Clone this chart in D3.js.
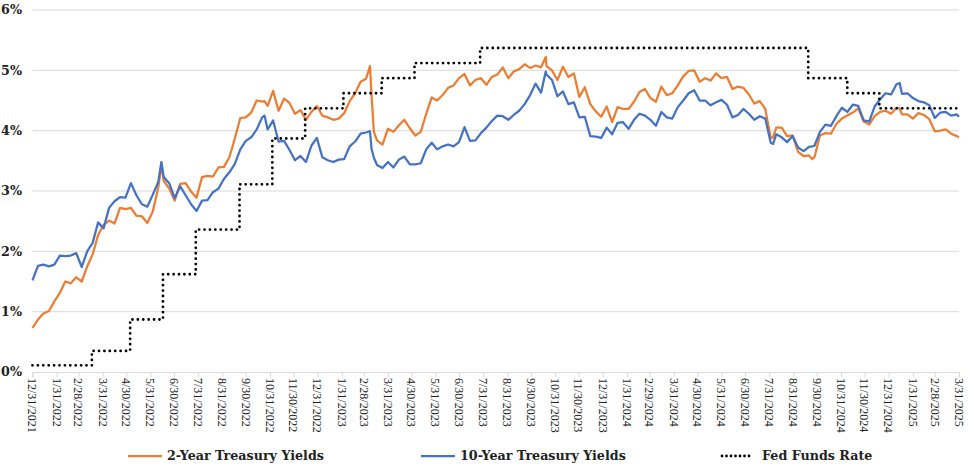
<!DOCTYPE html>
<html>
<head>
<meta charset="utf-8">
<script src="https://cdn.jsdelivr.net/npm/d3@7"></script>
<style>
  body { margin: 0; background: #fff; }
  svg { display: block; }
  .x-label { font-family: "Liberation Serif", serif; font-size: 12px; fill: #222; }
  .y-label, .legend-text { font-family: "DejaVu Serif", serif; font-weight: bold; font-size: 12.7px; fill: #222; }
</style>
</head>
<body>
<svg id="chart" width="971" height="465"></svg>
<script>
// weekly observation dates (plus a few spike days)
const dates = [
  "2021-12-31",
  "2022-01-07","2022-01-14","2022-01-21","2022-01-28","2022-02-04","2022-02-11","2022-02-18","2022-02-25",
  "2022-03-04","2022-03-11","2022-03-18","2022-03-25","2022-04-01","2022-04-08","2022-04-15","2022-04-22","2022-04-29",
  "2022-05-06","2022-05-13","2022-05-20","2022-05-27","2022-06-03","2022-06-10","2022-06-14","2022-06-17","2022-06-24",
  "2022-07-01","2022-07-08","2022-07-15","2022-07-22","2022-07-29","2022-08-05","2022-08-12","2022-08-19","2022-08-26",
  "2022-09-02","2022-09-09","2022-09-16","2022-09-23","2022-09-30","2022-10-07","2022-10-14","2022-10-21","2022-10-24","2022-10-28",
  "2022-11-04","2022-11-11","2022-11-18","2022-11-25","2022-12-02","2022-12-09","2022-12-16","2022-12-23","2022-12-30",
  "2023-01-06","2023-01-13","2023-01-20","2023-01-27","2023-02-03","2023-02-10","2023-02-17","2023-02-24",
  "2023-03-03","2023-03-08","2023-03-10","2023-03-13","2023-03-17","2023-03-24","2023-03-31",
  "2023-04-07","2023-04-14","2023-04-21","2023-04-28","2023-05-05","2023-05-12","2023-05-19","2023-05-26",
  "2023-06-02","2023-06-09","2023-06-16","2023-06-23","2023-06-30","2023-07-07","2023-07-14","2023-07-21","2023-07-28",
  "2023-08-04","2023-08-11","2023-08-18","2023-08-25","2023-09-01","2023-09-08","2023-09-15","2023-09-22","2023-09-29",
  "2023-10-06","2023-10-13","2023-10-19","2023-10-20","2023-10-27","2023-11-03","2023-11-10","2023-11-17","2023-11-24",
  "2023-12-01","2023-12-08","2023-12-15","2023-12-22","2023-12-29",
  "2024-01-05","2024-01-12","2024-01-19","2024-01-26","2024-02-02","2024-02-09","2024-02-16","2024-02-23",
  "2024-03-01","2024-03-08","2024-03-15","2024-03-22","2024-03-29","2024-04-05","2024-04-12","2024-04-19","2024-04-26",
  "2024-05-03","2024-05-10","2024-05-17","2024-05-24","2024-05-31","2024-06-07","2024-06-14","2024-06-21","2024-06-28",
  "2024-07-05","2024-07-12","2024-07-19","2024-07-26","2024-08-02","2024-08-05","2024-08-09","2024-08-16","2024-08-23","2024-08-30",
  "2024-09-06","2024-09-13","2024-09-20","2024-09-24","2024-09-27","2024-10-04","2024-10-11","2024-10-18","2024-10-25",
  "2024-11-01","2024-11-08","2024-11-15","2024-11-22","2024-11-29","2024-12-06","2024-12-13","2024-12-20","2024-12-27",
  "2025-01-03","2025-01-10","2025-01-14","2025-01-17","2025-01-24","2025-01-31","2025-02-07","2025-02-14","2025-02-21","2025-02-28",
  "2025-03-07","2025-03-14","2025-03-21","2025-03-28","2025-03-31"
];

const twoYear = [
  0.73,
  0.87,0.97,1.01,1.17,1.31,1.50,1.47,1.57,
  1.50,1.75,1.95,2.27,2.44,2.51,2.46,2.72,2.70,
  2.72,2.59,2.58,2.47,2.66,3.06,3.43,3.17,3.04,
  2.84,3.12,3.13,2.99,2.89,3.23,3.25,3.24,3.39,
  3.40,3.56,3.87,4.21,4.22,4.30,4.50,4.48,4.49,4.41,
  4.66,4.33,4.53,4.46,4.28,4.34,4.18,4.31,4.41,
  4.25,4.22,4.18,4.20,4.29,4.49,4.62,4.81,
  4.86,5.07,4.59,3.98,3.84,3.77,4.03,
  3.98,4.09,4.18,4.04,3.92,3.98,4.28,4.55,
  4.50,4.59,4.71,4.75,4.87,4.94,4.75,4.84,4.87,
  4.76,4.89,4.93,5.05,4.87,4.98,5.02,5.10,5.04,
  5.08,5.05,5.22,5.07,5.00,4.84,5.06,4.89,4.95,
  4.56,4.72,4.44,4.32,4.23,
  4.40,4.14,4.39,4.36,4.36,4.48,4.64,4.69,
  4.54,4.48,4.73,4.59,4.62,4.75,4.90,4.99,5.00,
  4.81,4.87,4.83,4.95,4.87,4.89,4.69,4.73,4.71,
  4.60,4.45,4.49,4.36,3.88,3.89,4.05,4.05,3.91,3.92,
  3.65,3.58,3.59,3.53,3.56,3.92,3.96,3.95,4.11,
  4.20,4.25,4.30,4.37,4.15,4.10,4.24,4.31,4.33,
  4.28,4.38,4.37,4.27,4.27,4.20,4.29,4.26,4.19,3.99,
  4.00,4.02,3.95,3.91,3.89
];

const tenYear = [
  1.52,
  1.76,1.78,1.75,1.78,1.93,1.92,1.93,1.97,
  1.74,2.00,2.14,2.48,2.38,2.72,2.83,2.90,2.89,
  3.13,2.93,2.78,2.74,2.94,3.15,3.48,3.23,3.13,
  2.88,3.08,2.93,2.78,2.67,2.84,2.85,2.98,3.04,
  3.20,3.31,3.45,3.69,3.83,3.89,4.02,4.22,4.25,4.02,
  4.17,3.82,3.83,3.68,3.51,3.58,3.48,3.75,3.88,
  3.56,3.51,3.48,3.52,3.53,3.74,3.82,3.95,
  3.97,3.99,3.70,3.55,3.43,3.38,3.48,
  3.39,3.52,3.57,3.44,3.44,3.46,3.69,3.80,
  3.69,3.74,3.77,3.74,3.81,4.06,3.83,3.84,3.96,
  4.05,4.16,4.25,4.24,4.18,4.26,4.33,4.44,4.59,
  4.78,4.63,4.98,4.93,4.84,4.57,4.65,4.44,4.47,
  4.22,4.23,3.91,3.90,3.88,
  4.05,3.94,4.13,4.14,4.03,4.18,4.28,4.25,
  4.18,4.08,4.31,4.22,4.20,4.39,4.50,4.62,4.67,
  4.50,4.50,4.42,4.47,4.51,4.43,4.22,4.26,4.36,
  4.28,4.18,4.24,4.20,3.80,3.78,3.94,3.89,3.81,3.91,
  3.72,3.66,3.73,3.74,3.75,3.98,4.10,4.08,4.24,
  4.38,4.31,4.43,4.41,4.17,4.15,4.40,4.52,4.62,
  4.60,4.77,4.79,4.61,4.62,4.54,4.49,4.47,4.42,4.21,
  4.30,4.31,4.25,4.27,4.23
];

// fed funds: effective dates of each level
const fedDates = [
  "2021-12-31","2022-03-17","2022-05-05","2022-06-16","2022-07-28","2022-09-22","2022-11-03","2022-12-15",
  "2023-02-02","2023-03-23","2023-05-04","2023-07-27","2024-09-19","2024-11-08","2024-12-19","2025-03-31"
];
const fedRate = [0.11,0.35,0.87,1.62,2.36,3.11,3.87,4.37,4.62,4.87,5.12,5.37,4.87,4.62,4.37,4.37];

const xTickLabels = [
  "12/31/2021","1/31/2022","2/28/2022","3/31/2022","4/30/2022","5/31/2022","6/30/2022","7/31/2022","8/31/2022",
  "9/30/2022","10/31/2022","11/30/2022","12/31/2022","1/31/2023","2/28/2023","3/31/2023","4/30/2023","5/31/2023",
  "6/30/2023","7/31/2023","8/31/2023","9/30/2023","10/31/2023","11/30/2023","12/31/2023","1/31/2024","2/29/2024",
  "3/31/2024","4/30/2024","5/31/2024","6/30/2024","7/31/2024","8/31/2024","9/30/2024","10/31/2024","11/30/2024",
  "12/31/2024","1/31/2025","2/28/2025","3/31/2025"
];
const yTicks = [0, 1, 2, 3, 4, 5, 6];

const seriesNames = ["2-Year Treasury Yields", "10-Year Treasury Yields", "Fed Funds Rate"];
const colors = ["#ED7D31", "#4472C4", "#000000"];

const parseIso = d3.timeParse("%Y-%m-%d");
const parseLabel = d3.timeParse("%m/%d/%Y");

const svg = d3.select("#chart");

const x = d3.scaleTime()
  .domain([parseIso("2021-12-31"), parseIso("2025-03-31")])
  .range([32.5, 959]);
const y = d3.scaleLinear().domain([0, 6]).range([372, 10]);

// gridlines
svg.append("g")
  .selectAll("line")
  .data(yTicks.slice(1))
  .enter()
  .append("line")
  .attr("x1", x.range()[0])
  .attr("x2", x.range()[1])
  .attr("y1", (d) => y(d))
  .attr("y2", (d) => y(d))
  .attr("stroke", "#d9d9d9")
  .attr("stroke-width", 1);

// y labels
svg.append("g")
  .selectAll("text")
  .data(yTicks)
  .enter()
  .append("text")
  .attr("class", "y-label")
  .attr("x", 22)
  .attr("y", (d) => y(d))
  .attr("dy", "0.35em")
  .attr("text-anchor", "end")
  .text((d) => d + "%");

// x axis
const tickDates = xTickLabels.map(parseLabel);
const xAxis = svg.append("g")
  .attr("transform", `translate(0,${y(0)})`)
  .call(d3.axisBottom(x).tickValues(tickDates).tickSize(5).tickFormat(""));
xAxis.select(".domain").attr("stroke", "#d9d9d9");
xAxis.selectAll(".tick line").attr("stroke", "#d9d9d9");

svg.append("g")
  .selectAll("text")
  .data(xTickLabels)
  .enter()
  .append("text")
  .attr("class", "x-label")
  .attr("transform", (d) => `translate(${x(parseLabel(d))},${y(0) + 6}) rotate(90)`)
  .attr("dy", "0.35em")
  .attr("text-anchor", "start")
  .text((d) => d);

// lines
const line = d3.line()
  .x((d) => x(d.date))
  .y((d) => y(d.value));

const twoData = dates.map((d, i) => ({ date: parseIso(d), value: twoYear[i] }));
const tenData = dates.map((d, i) => ({ date: parseIso(d), value: tenYear[i] }));
const fedData = fedDates.map((d, i) => ({ date: parseIso(d), value: fedRate[i] }));

svg.append("path")
  .datum(twoData)
  .attr("fill", "none")
  .attr("stroke", colors[0])
  .attr("stroke-width", 2.25)
  .attr("stroke-linejoin", "round")
  .attr("d", line);

svg.append("path")
  .datum(tenData)
  .attr("fill", "none")
  .attr("stroke", colors[1])
  .attr("stroke-width", 2.25)
  .attr("stroke-linejoin", "round")
  .attr("d", line);

svg.append("path")
  .datum(fedData)
  .attr("fill", "none")
  .attr("stroke", colors[2])
  .attr("stroke-width", 2.8)
  .attr("stroke-linecap", "round")
  .attr("stroke-dasharray", "0 5.4")
  .attr("d", line.curve(d3.curveStepAfter));

// legend
const legendItems = [
  { x: 128, textX: 167 },
  { x: 421, textX: 460 },
  { x: 722, textX: 762 }
];
const legend = svg.append("g");
legendItems.forEach((it, i) => {
  const seg = legend.append("line")
    .attr("x1", it.x)
    .attr("x2", it.x + 34)
    .attr("y1", 456)
    .attr("y2", 456)
    .attr("stroke", colors[i])
    .attr("stroke-width", i === 2 ? 2.8 : 2.25);
  if (i === 2) seg.attr("stroke-linecap", "round").attr("stroke-dasharray", "0 4.5").attr("x2", it.x + 30);
  legend.append("text")
    .attr("class", "legend-text")
    .attr("x", it.textX)
    .attr("y", 456)
    .attr("dy", "0.35em")
    .text(seriesNames[i]);
});
</script>
</body>
</html>
